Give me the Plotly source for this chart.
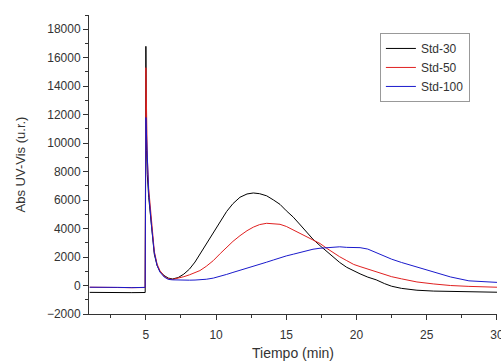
import plotly.graph_objects as go

# Time (min)
t = [1, 2, 3, 4, 4.95, 5.0, 5.05, 5.1, 5.2, 5.4, 5.6, 5.8, 6.0, 6.3, 6.6,
     6.9, 7.3, 7.7, 8.1, 8.5, 8.85, 9.3, 9.8, 10.3, 10.75,
     11.2, 11.7, 12.2, 12.65, 13.1, 13.6, 14.1, 14.55, 15.0, 15.5,
     16.0, 16.45, 16.9, 17.4, 17.9, 18.35, 18.8, 19.3, 19.8, 20.25,
     20.8, 21.4, 22.0, 22.5, 23.2, 24.3, 25.5, 26.7, 28, 29, 30]

std30 = [-480, -500, -490, -500, -490, 16800, 9500, 7800, 6200, 4000, 2200, 1400, 1000, 700, 520,
         460, 560, 800, 1150, 1650, 2200, 2900, 3620, 4450, 5200,
         5750, 6200, 6430, 6500, 6450, 6300, 6000, 5700, 5250, 4800,
         4250, 3740, 3250, 2800, 2380, 1990, 1620, 1280, 1030, 820,
         590, 400, 130, -50, -200, -330, -390, -420, -450, -460, -470]

std50 = [-120, -150, -140, -150, -140, 15300, 12000, 9000, 6800, 4300, 2400, 1500, 1050, 650, 470,
         430, 500, 620, 750, 900, 1050, 1350, 1750, 2250, 2700,
         3100, 3500, 3850, 4100, 4280, 4370, 4350, 4300, 4150, 3900,
         3700, 3450, 3250, 2950, 2600, 2300, 2020, 1750, 1480, 1330,
         1150, 935, 770, 620, 470, 250, 110, 0, -60, -100, -120]

std100 = [-120, -150, -130, -150, -130, 11800, 10500, 8500, 6500, 4200, 2300, 1400, 950, 600, 430,
          400, 380, 370, 375, 385, 400, 440, 520, 640, 780,
          920, 1060, 1200, 1330, 1470, 1640, 1800, 1950, 2080, 2200,
          2340, 2420, 2550, 2620, 2660, 2700, 2720, 2680, 2660, 2660,
          2560, 2300, 2050, 1850, 1620, 1300, 920, 600, 330, 250, 220]

names = ["Std-30", "Std-50", "Std-100"]
colors = ["#000000", "#e02020", "#1a1acc"]

fig = go.Figure()
for name, ys, c in zip(names, [std30, std50, std100], colors):
    fig.add_trace(go.Scatter(x=t, y=ys, mode="lines", name=name,
                             line=dict(color=c, width=1)))

FONT = "Liberation Sans, Arial"
axis_common = dict(showline=True, linecolor="#333333", linewidth=1, ticks="outside",
                   ticklen=5, tickcolor="#333333", showgrid=False, zeroline=False,
                   ticklabeloverflow="allow",
                   tickfont=dict(family=FONT, size=12, color="#333333"))

fig.update_xaxes(range=[0.95, 30.001], tick0=0, dtick=5, ticklabelstandoff=5,
                 minor=dict(dtick=2.5, ticks="outside", ticklen=3, tickcolor="#333333"),
                 title=dict(text="Tiempo (min)", font=dict(family=FONT, size=14, color="#333333"), standoff=6),
                 **axis_common)
fig.update_yaxes(range=[-2000, 19000], tick0=0, dtick=2000, tickformat="d",
                 minor=dict(dtick=1000, ticks="outside", ticklen=3, tickcolor="#333333"),
                 title=dict(text="Abs UV-Vis (u.r.)", font=dict(family=FONT, size=13, color="#333333"), standoff=18),
                 **axis_common)

fig.update_layout(
    width=501, height=361,
    margin=dict(l=89, r=4, t=15, b=47, autoexpand=False),
    paper_bgcolor="white", plot_bgcolor="white",
    showlegend=True,
    legend=dict(x=0.713, y=0.94, xanchor="left", yanchor="top",
                bordercolor="#999999", borderwidth=1, bgcolor="rgba(255,255,255,0)",
                font=dict(family=FONT, size=12, color="#333333"),
                tracegroupgap=0, itemwidth=30),
)

fig.write_html("out.html", config={"displayModeBar": False},
               post_script="document.body.style.margin='0';")
